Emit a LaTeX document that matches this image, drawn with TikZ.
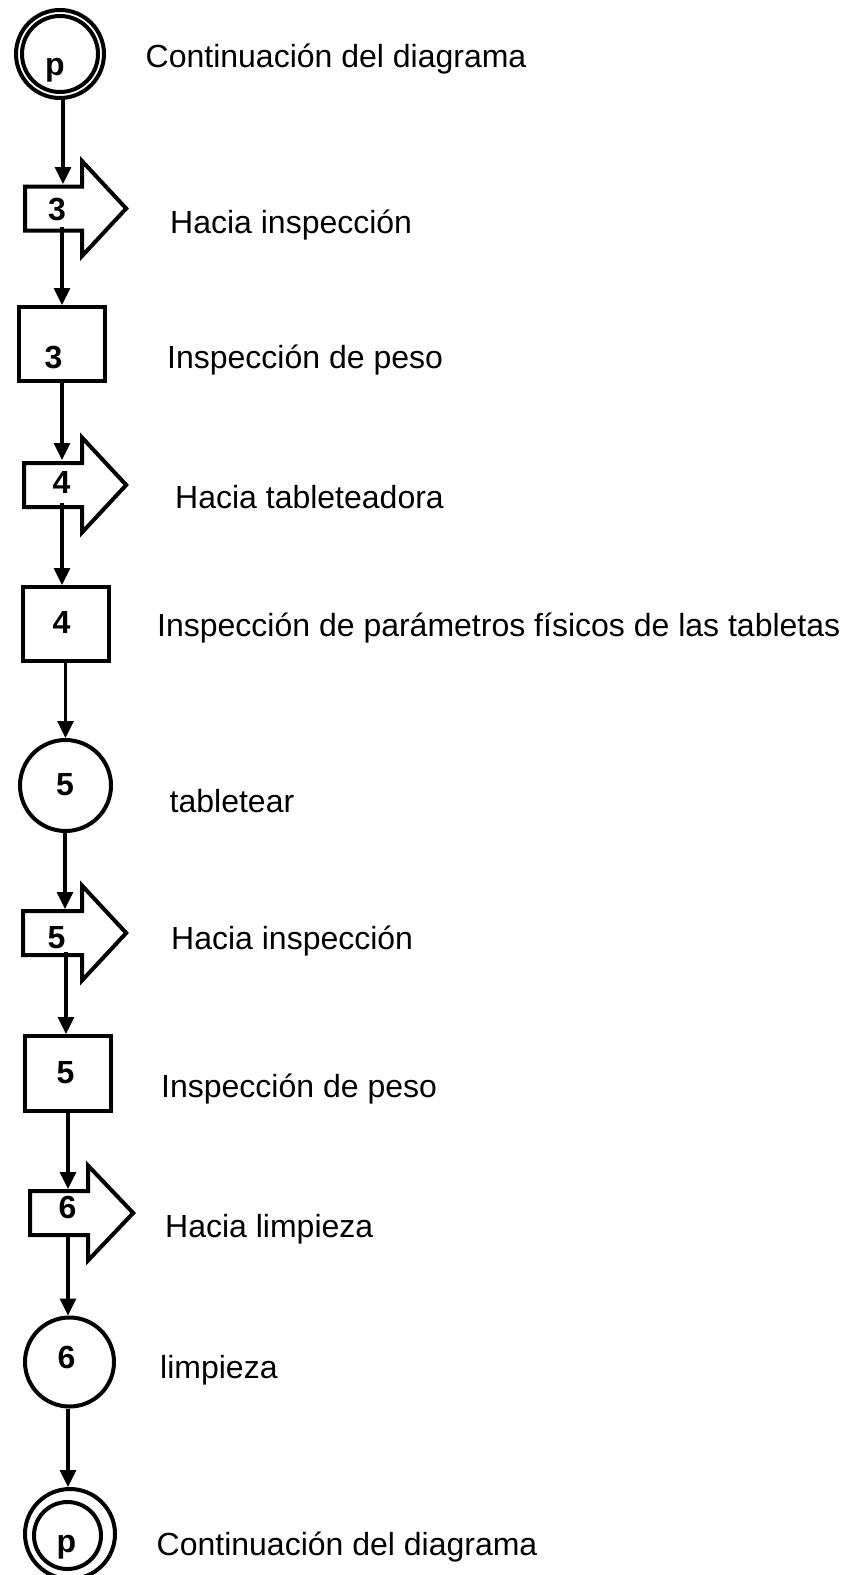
\documentclass[tikz,border=0pt]{standalone}
\usepackage{fontspec}
\setmainfont{Liberation Sans}
\usetikzlibrary{arrows.meta}
\newcommand\flowarrowpath[4]{% xl, xn, yc, xt
  \draw[shp] (#1+2,#3-22) -- (#2,#3-22) -- (#2,#3-47.5) -- (#4-2.8,#3)
    -- (#2,#3+47.5) -- (#2,#3+22) -- (#1+2,#3+22) -- cycle;}
\begin{document}
\begin{tikzpicture}[x=1bp,y=-1bp,
  shp/.style={draw, line width=4bp, line join=miter},
  nd/.style={draw, line width=4bp, inner sep=0pt},
  conn/.style={line width=3.3bp, -{Triangle[length=17bp,width=16bp]}},
  lbl/.style={anchor=base west, inner sep=0pt, font=\fontsize{32bp}{37bp}\selectfont},
  num/.style={anchor=base, inner sep=0pt, font=\fontsize{32bp}{37bp}\selectfont\bfseries}]
\useasboundingbox[fill=white] (0,0) rectangle (859,1575);

% --- shapes ---
\node[nd, circle, minimum size=88bp] (pT) at (60,54) {};
\node[nd, circle, minimum size=76bp] (pTi) at (60,54) {};
\node[num] (pTt) at (55,76) {p};

\flowarrowpath{23}{82}{208.5}{129}
\coordinate (A3in) at (63,184);
\coordinate (A3out) at (62,227);
\node[num] (A3t) at (57,220) {3};

\node[nd, rectangle, minimum width=86bp, minimum height=74bp] (B3) at (62,344) {};
\node[num] (B3t) at (53.5,368) {3};

\flowarrowpath{22}{82}{485}{129}
\coordinate (A4in) at (62,460);
\coordinate (A4out) at (62,503);
\node[num] (A4t) at (61.5,493) {4};

\node[nd, rectangle, minimum width=86bp, minimum height=74bp] (B4) at (66,624) {};
\node[num] (B4t) at (61.5,633) {4};

\node[nd, circle, minimum size=91bp] (C5) at (65.5,785.5) {};
\node[num] (C5t) at (65,795) {5};

\flowarrowpath{21}{82}{933}{129}
\coordinate (A5in) at (65,909);
\coordinate (A5out) at (66,952);
\node[num] (A5t) at (56.5,948) {5};

\node[nd, rectangle, minimum width=86bp, minimum height=75bp] (B5) at (68,1073.5) {};
\node[num] (B5t) at (65.5,1083) {5};

\flowarrowpath{28}{88}{1213}{136}
\coordinate (A6in) at (68,1189);
\coordinate (A6out) at (68,1236);
\node[num] (A6t) at (67.5,1218) {6};

\node[nd, circle, minimum size=89bp] (C6) at (69.5,1362) {};
\node[num] (C6t) at (66.5,1368) {6};

\node[nd, circle, minimum size=90bp] (pB) at (70,1534) {};
\node[nd, circle, minimum size=67bp] (pBi) at (67.5,1535.5) {};
\node[num] (pBt) at (66.5,1552) {p};

% --- connectors ---
\draw[conn] (pT.south -| A3in) -- (A3in);
\draw[conn] (A3out) -- (B3.north -| A3out);
\draw[conn] (B3.south -| A4in) -- (A4in);
\draw[conn] (A4out) -- (B4.north -| A4out);
\draw[conn] (B4.south -| C5.north) -- (C5.north);
\draw[conn] (C5.south -| A5in) -- (A5in);
\draw[conn] (A5out) -- (B5.north -| A5out);
\draw[conn] (B5.south -| A6in) -- (A6in);
\draw[conn] (A6out) -- (C6.north -| A6out);
\draw[conn] (C6.south -| A6out) -- (pB.north -| A6out);

% --- labels ---
\node[lbl] (L1) at (145.5,68) {Continuación del diagrama};
\node[lbl] (L2) at (170,233) {Hacia inspección};
\node[lbl] (L3) at (167,368) {Inspección de peso};
\node[lbl] (L4) at (175,508) {Hacia tableteadora};
\node[lbl] (L5) at (157,636) {Inspección de parámetros físicos de las tabletas};
\node[lbl] (L6) at (169.5,812) {tabletear};
\node[lbl] (L7) at (171,949) {Hacia inspección};
\node[lbl] (L8) at (161,1097) {Inspección de peso};
\node[lbl] (L9) at (165,1237) {Hacia limpieza};
\node[lbl] (L10) at (160,1378) {limpieza};
\node[lbl] (L11) at (156.5,1555) {Continuación del diagrama};
\end{tikzpicture}
\end{document}
